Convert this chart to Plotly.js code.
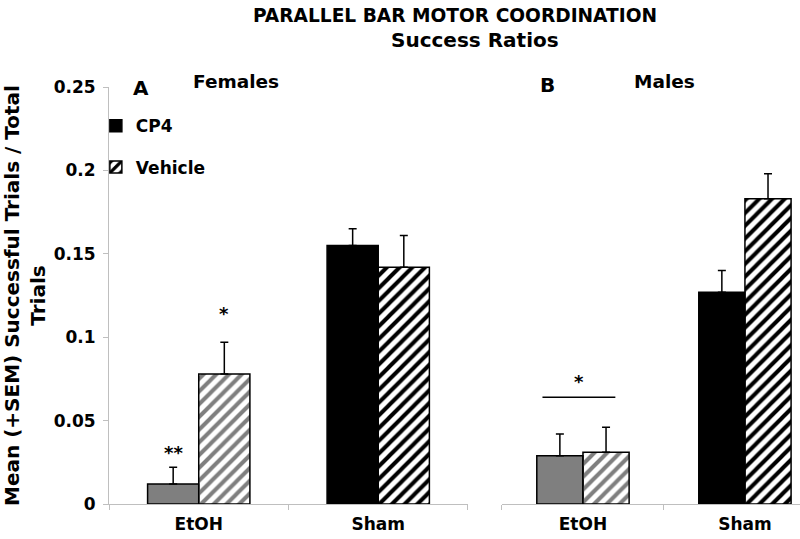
<!DOCTYPE html>
<html>
<head>
<meta charset="utf-8">
<script src="https://cdn.plot.ly/plotly-3.0.1.min.js"></script>
<style>html,body{margin:0;padding:0;background:#fff}#chart{width:800px;height:539px}</style>
</head>
<body>
<div id="chart"></div>
<script>
// ---- data ----
const categories = ['EtOH', 'Sham'];
const femaleCP4 = [0.012, 0.155];
const femaleCP4Err = [0.010, 0.010];
const femaleVehicle = [0.078, 0.142];
const femaleVehicleErr = [0.019, 0.019];
const maleCP4 = [0.029, 0.127];
const maleCP4Err = [0.013, 0.013];
const maleVehicle = [0.031, 0.183];
const maleVehicleErr = [0.015, 0.015];
const cp4Colors = ['#7f7f7f', '#000000'];
const vehicleStripeColors = ['#7f7f7f', '#000000'];
const yTickVals = [0, 0.05, 0.1, 0.15, 0.2, 0.25];
const yTickText = ['0', '0.05', '0.1', '0.15', '0.2', '0.25'];
// significance marks: [label, axis, x (category units), y]
const sigLabels = ['**', '*', '*'];
const sigAxes = ['1', '1', '2'];
const sigX = [-0.1425, 0.1425, -0.025];
const sigY = [0.0306, 0.1145, 0.0732];
const sigLineX = [-0.25, 0.2];
const sigLineY = 0.064;

const FONT = 'DejaVu Sans, Arial, sans-serif';
// data order reversed so that the legend swatch uses the Sham (black) style
const rev = a => a.slice().reverse();

function barTrace(vals, errs, isVehicle, xa, ya, show, name) {
  return {
    type: 'bar', name: name, x: rev(categories), y: rev(vals),
    xaxis: xa, yaxis: ya, showlegend: show, legendgroup: name,
    marker: {
      color: isVehicle ? rev(vehicleStripeColors) : rev(cp4Colors),
      line: {color: '#000000', width: 1.5},
      pattern: isVehicle ? {shape: '/', fgcolor: rev(vehicleStripeColors), bgcolor: '#ffffff', size: 9, solidity: 0.45, fillmode: 'replace'} : {shape: ''}
    },
    error_y: {type: 'data', symmetric: false, array: rev(errs), arrayminus: errs.map(() => 0),
      color: '#000000', thickness: 1.5, width: 4},
    hoverinfo: 'skip'
  };
}

const data = [
  barTrace(femaleCP4, femaleCP4Err, false, 'x', 'y', true, 'CP4'),
  barTrace(femaleVehicle, femaleVehicleErr, true, 'x', 'y', true, 'Vehicle'),
  barTrace(maleCP4, maleCP4Err, false, 'x2', 'y2', false, 'CP4'),
  barTrace(maleVehicle, maleVehicleErr, true, 'x2', 'y2', false, 'Vehicle')
];

const tickFont = {family: FONT, size: 17, color: '#000', weight: 'bold'};
const xCommon = {
  type: 'category', categoryorder: 'array', categoryarray: categories,
  showline: true, linecolor: '#bfbfbf', linewidth: 1,
  ticks: 'outside', tickson: 'boundaries', ticklen: 5, tickcolor: '#bfbfbf', ticklabelstandoff: 5,
  tickfont: tickFont, showgrid: false, automargin: false, fixedrange: true
};

const annotations = sigLabels.map((t, i) => ({
  text: t, xref: 'x' + (sigAxes[i] === '1' ? '' : sigAxes[i]), yref: 'y' + (sigAxes[i] === '1' ? '' : sigAxes[i]),
  x: sigX[i], y: sigY[i], showarrow: false, xanchor: 'center', yanchor: 'middle',
  font: {family: FONT, size: 18, color: '#000', weight: 'bold'}
}));
const pBold = (t, x, y, size) => ({text: t, xref: 'paper', yref: 'paper', x: x, y: y, showarrow: false,
  xanchor: 'center', yanchor: 'middle', font: {family: FONT, size: size, color: '#000', weight: 'bold'}});
annotations.push(pBold('Success Ratios', 0.5297, 1.1127, 20));
annotations.push(pBold('A', 0.0463, 0.9976, 20));
annotations.push(pBold('Females', 0.1838, 1.012, 18.5));
annotations.push(pBold('B', 0.6353, 1.0048, 20));
annotations.push(pBold('Males', 0.8046, 1.012, 18.5));

const layout = {
  width: 800, height: 539,
  margin: {l: 109, r: 0, t: 87, b: 35, pad: 0},
  paper_bgcolor: '#ffffff', plot_bgcolor: '#ffffff',
  font: {family: FONT, color: '#000'},
  title: {text: 'PARALLEL BAR MOTOR COORDINATION', x: 455 / 800, xref: 'container', xanchor: 'center',
    y: 1 - 15 / 539, yref: 'container', yanchor: 'middle',
    font: {family: FONT, size: 18.6, color: '#000', weight: 'bold'}},
  barmode: 'group', bargap: 0.43, bargroupgap: 0,
  xaxis: Object.assign({}, xCommon, {domain: [0, 0.5195], range: [-0.5, 1.5], anchor: 'y'}),
  xaxis2: Object.assign({}, xCommon, {domain: [0.5687, 1], range: [-0.5, 1.34], anchor: 'y2'}),
  yaxis: {
    domain: [0, 1], range: [0, 0.25], anchor: 'x', tickmode: 'array', tickvals: yTickVals, ticktext: yTickText,
    showline: true, linecolor: '#bfbfbf', linewidth: 1, ticks: 'outside', ticklen: 5, tickcolor: '#bfbfbf',
    tickfont: tickFont, ticklabelstandoff: 4, showgrid: false, zeroline: false, automargin: false, fixedrange: true,
    title: {text: 'Mean (+SEM) Successful Trials / Total<br>Trials', standoff: 6,
      font: {family: FONT, size: 20, color: '#000', weight: 'bold'}}
  },
  yaxis2: {domain: [0, 1], range: [0, 0.25], anchor: 'x2', visible: false, fixedrange: true},
  showlegend: true,
  legend: {x: -0.019, y: 0.949, xanchor: 'left', yanchor: 'top', traceorder: 'grouped', tracegroupgap: 16,
    bgcolor: 'rgba(0,0,0,0)', borderwidth: 0, itemclick: false, itemdoubleclick: false,
    font: {family: FONT, size: 17, color: '#000', weight: 'bold'}},
  shapes: [{type: 'line', xref: 'x2', yref: 'y2', x0: sigLineX[0], x1: sigLineX[1], y0: sigLineY, y1: sigLineY,
    line: {color: '#000', width: 1.5}}],
  annotations: annotations
};

Plotly.newPlot('chart', data, layout, {staticPlot: true, displayModeBar: false});
</script>
</body>
</html>
